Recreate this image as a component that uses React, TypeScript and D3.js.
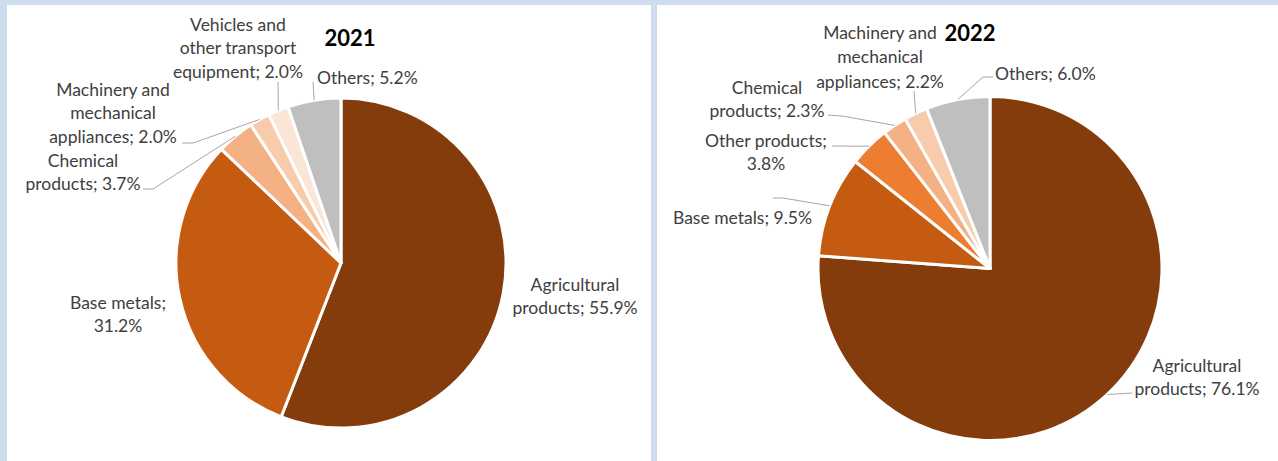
import React from "react";
import * as d3 from "d3";

// ---- Data ----
const categories2021 = [
  "Agricultural products",
  "Base metals",
  "Chemical products",
  "Machinery and mechanical appliances",
  "Vehicles and other transport equipment",
  "Others",
];
const values2021 = [55.9, 31.2, 3.7, 2.0, 2.0, 5.2];
const labels2021 = [
  ["Agricultural", "products; 55.9%"],
  ["Base metals;", "31.2%"],
  ["Chemical", "products; 3.7%"],
  ["Machinery and", "mechanical", "appliances; 2.0%"],
  ["Vehicles and", "other transport", "equipment; 2.0%"],
  ["Others; 5.2%"],
];

const categories2022 = [
  "Agricultural products",
  "Base metals",
  "Other products",
  "Chemical products",
  "Machinery and mechanical appliances",
  "Others",
];
const values2022 = [76.1, 9.5, 3.8, 2.3, 2.2, 6.0];
const labels2022 = [
  ["Agricultural", "products; 76.1%"],
  ["Base metals; 9.5%"],
  ["Other products;", "3.8%"],
  ["Chemical", "products; 2.3%"],
  ["Machinery and", "mechanical", "appliances; 2.2%"],
  ["Others; 6.0%"],
];

// ---- Styles / layout ----
const colors2021 = ["#843C0C", "#C55A11", "#F4B183", "#F8CBAD", "#FBE5D6", "#BFBFBF"];
const colors2022 = ["#843C0C", "#C55A11", "#ED7D31", "#F4B183", "#F8CBAD", "#BFBFBF"];

type LabelLayout = { x: number; y: number; anchor: "middle" | "start"; leader: number[][] | null; lh?: number };

const layout2021: LabelLayout[] = [
  { x: 575, y: 284, anchor: "middle", leader: null },
  { x: 118, y: 302, anchor: "middle", leader: null },
  { x: 83, y: 160, anchor: "middle", leader: [[143, 189], [153, 189]] },
  { x: 113, y: 89, anchor: "middle", leader: [[182, 143], [193, 143]] },
  { x: 238, y: 24, anchor: "middle", leader: [[278, 82]] },
  { x: 317, y: 77, anchor: "start", leader: [[313, 82]] },
];
const layout2022: LabelLayout[] = [
  { x: 1197, y: 365, anchor: "middle", leader: [[1132, 393]] },
  { x: 673, y: 217, anchor: "start", leader: [[773, 198], [783, 198]] },
  { x: 766, y: 140, anchor: "middle", leader: [[832, 146]] },
  { x: 767, y: 87, anchor: "middle", leader: [[828, 115], [842, 116]] },
  { x: 880, y: 32, anchor: "middle", leader: [[914, 91]], lh: 24.5 },
  { x: 995, y: 73, anchor: "start", leader: [[993, 77], [983, 77]] },
];

const FONT = "Lato, 'Open Sans', sans-serif";
const TEXT = "#404040";

function Pie({
  cx, cy, r, values, names, colors, labels, layout, title, tx, ty,
}: {
  cx: number; cy: number; r: number; values: number[]; names: string[]; colors: string[];
  labels: string[][]; layout: LabelLayout[]; title: string; tx: number; ty: number;
}) {
  const pie = d3.pie<number>().sort(null).value((d) => d);
  const arcs = pie(values);
  const arc = d3.arc<d3.PieArcDatum<number>>().innerRadius(0).outerRadius(r);
  return (
    <g>
      <g transform={`translate(${cx},${cy})`}>
        {arcs.map((a, i) => (
          <path key={names[i]} d={arc(a) || ""} fill={colors[i]} stroke="#ffffff" strokeWidth={3} strokeLinejoin="round" />
        ))}
      </g>
      {arcs.map((a, i) => {
        const L = layout[i];
        if (!L.leader) return null;
        const mid = (a.startAngle + a.endAngle) / 2;
        const px = cx + r * Math.sin(mid);
        const py = cy - r * Math.cos(mid);
        const pts = [...L.leader, [px, py]];
        return (
          <polyline key={"l" + i} points={pts.map((p) => p.join(",")).join(" ")} fill="none" stroke="#A6A6A6" strokeWidth={1} />
        );
      })}
      {labels.map((lines, i) => {
        const L = layout[i];
        const lh = L.lh ?? 23.5;
        return (
          <text key={"t" + i} fontFamily={FONT} fontSize={17.5} fill={TEXT} textAnchor={L.anchor}>
            {lines.map((s, j) => (
              <tspan key={j} x={L.x} y={L.y + j * lh} dominantBaseline="central">{s}</tspan>
            ))}
          </text>
        );
      })}
      <text x={tx} y={ty} fontFamily={FONT} fontSize={22} fontWeight="bold" fill="#000" textAnchor="middle" dominantBaseline="central">{title}</text>
    </g>
  );
}

export default function App() {
  return (
    <svg width={1278} height={461} style={{ position: "absolute", left: 0, top: 0 }}>
      <rect x={0} y={0} width={1278} height={461} fill="#CEDCEF" />
      <rect x={7} y={5} width={644} height={456} fill="#ffffff" />
      <rect x={657} y={5} width={621} height={456} fill="#ffffff" />
      <Pie cx={341} cy={263} r={165} values={values2021} names={categories2021} colors={colors2021}
        labels={labels2021} layout={layout2021} title="2021" tx={350} ty={37} />
      <Pie cx={990} cy={268.5} r={172} values={values2022} names={categories2022} colors={colors2022}
        labels={labels2022} layout={layout2022} title="2022" tx={970} ty={32} />
    </svg>
  );
}
